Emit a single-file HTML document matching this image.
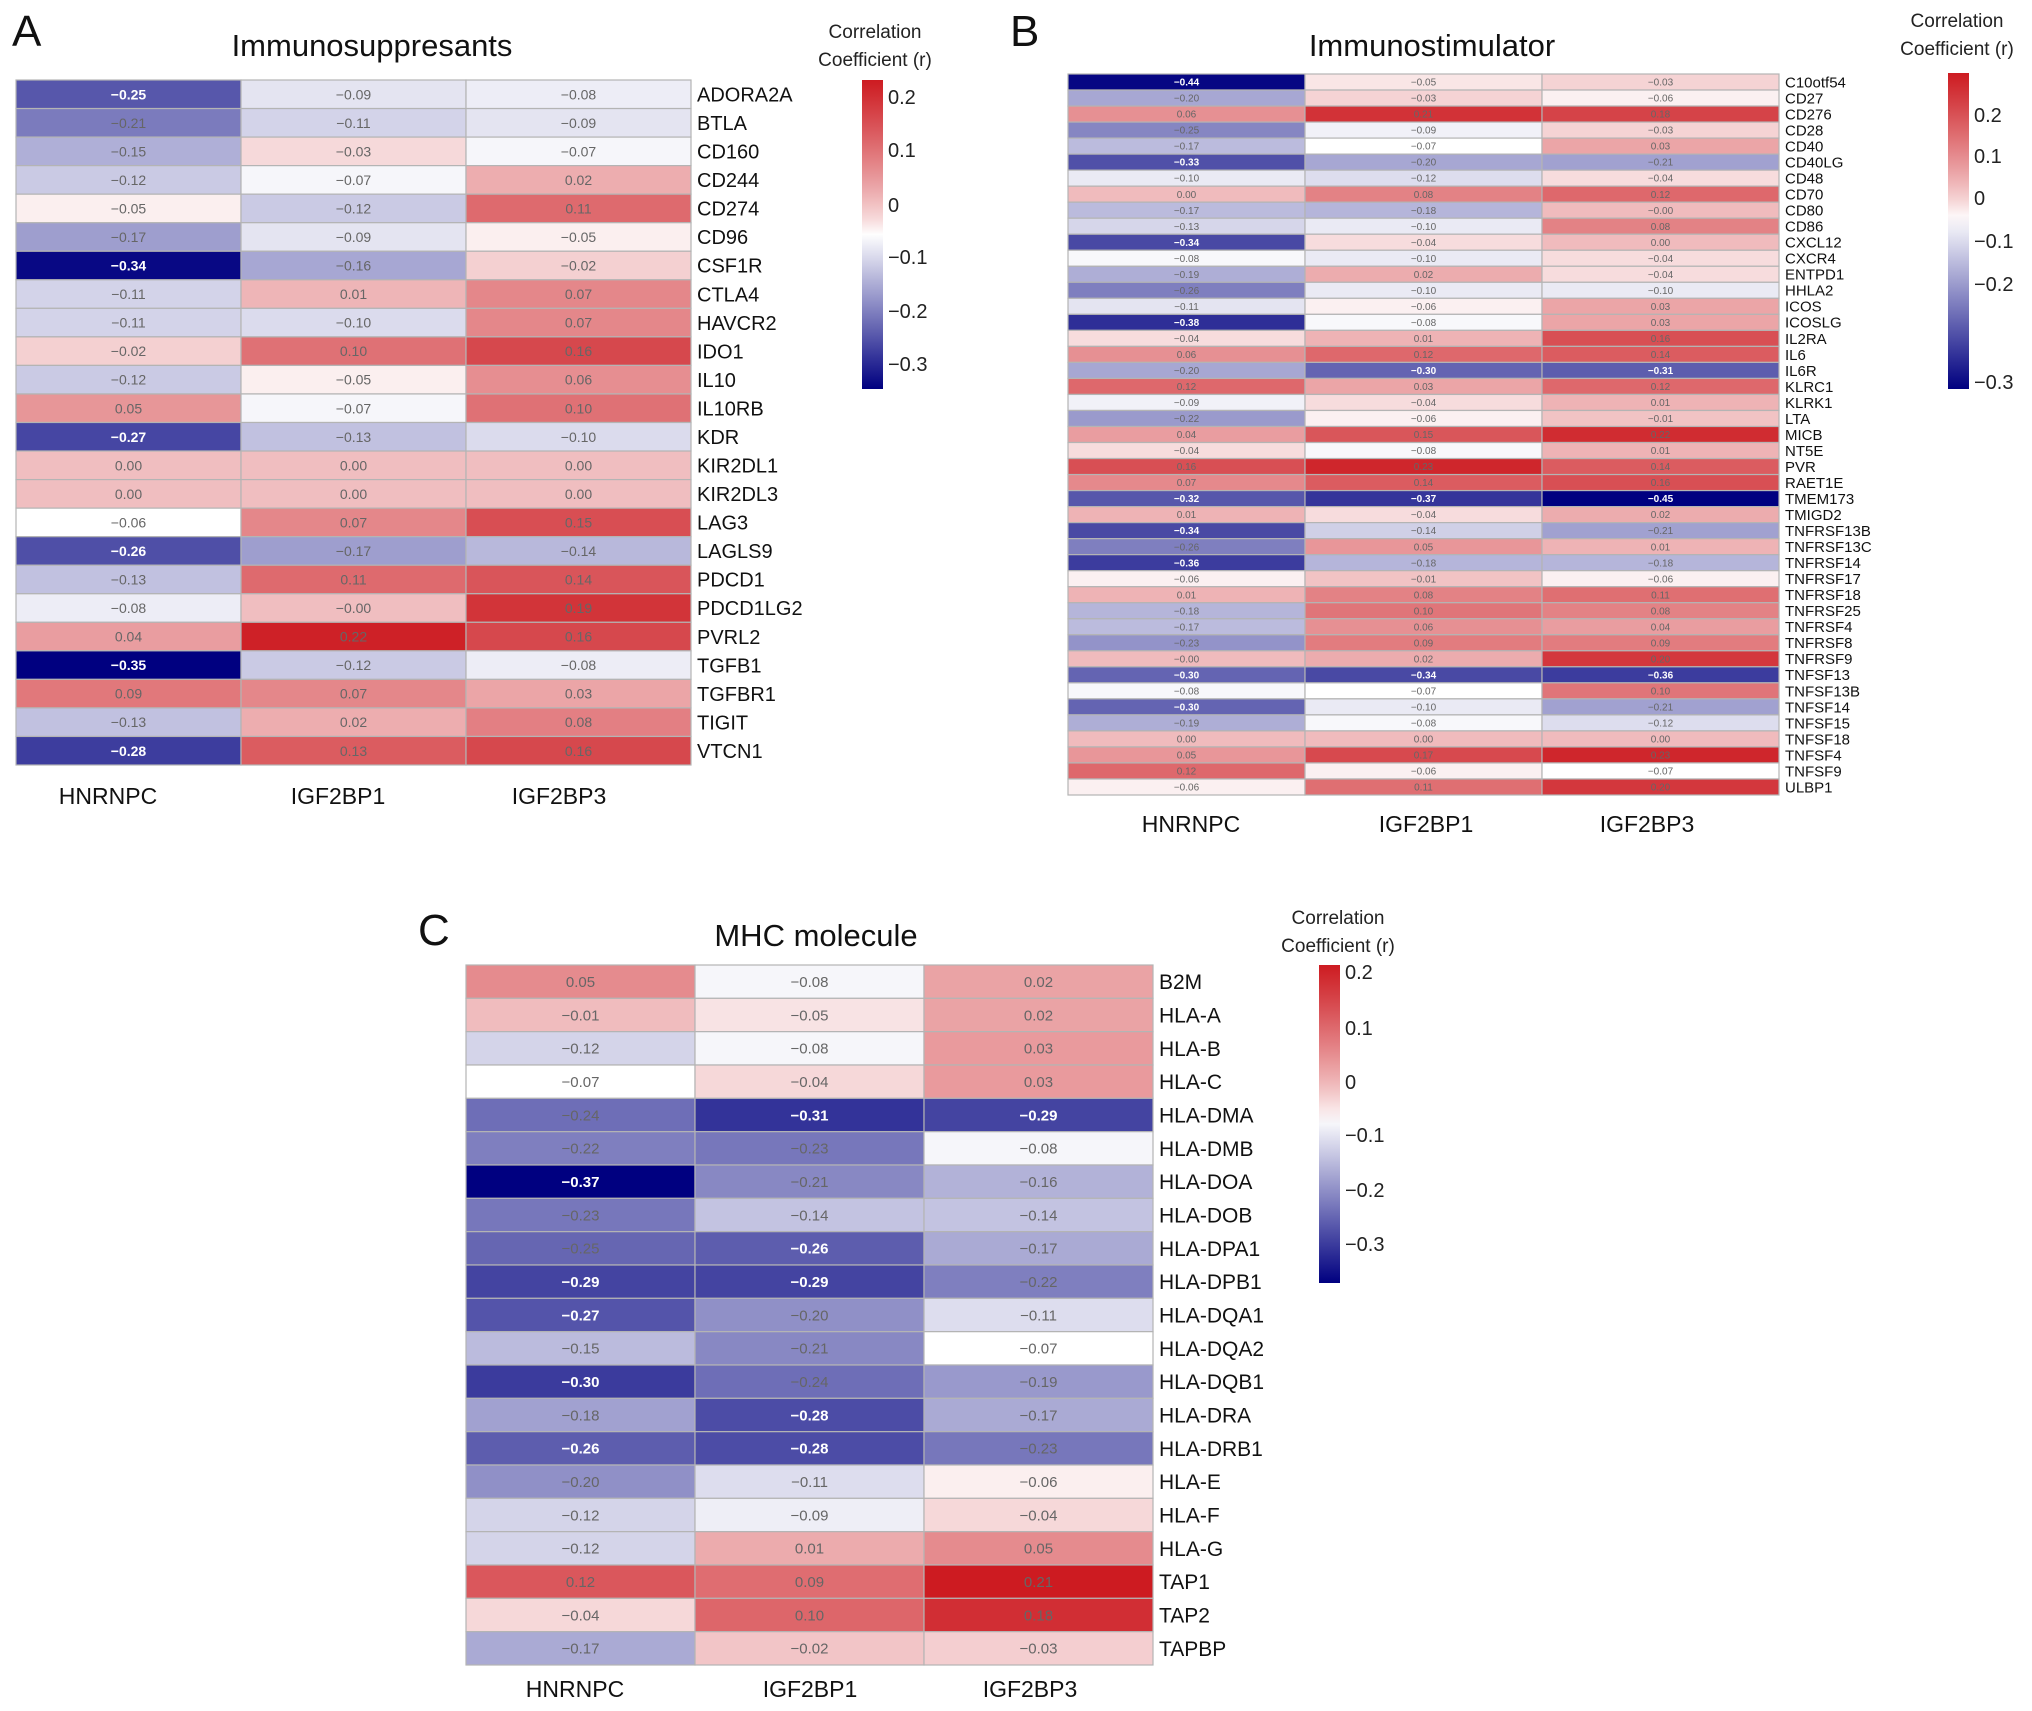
<!DOCTYPE html>
<html><head><meta charset="utf-8"><style>
html,body{margin:0;padding:0;background:#fff;}
svg{display:block;font-family:"Liberation Sans",Arial,sans-serif;}
</style></head><body>
<svg id="fig" width="2032" height="1711" viewBox="0 0 2032 1711" xmlns="http://www.w3.org/2000/svg"></svg>
<script>
const cols = ["HNRNPC","IGF2BP1","IGF2BP3"];
const genesA = ["ADORA2A","BTLA","CD160","CD244","CD274","CD96","CSF1R","CTLA4","HAVCR2","IDO1","IL10","IL10RB","KDR","KIR2DL1","KIR2DL3","LAG3","LAGLS9","PDCD1","PDCD1LG2","PVRL2","TGFB1","TGFBR1","TIGIT","VTCN1"];
const aHNRNPC = [-0.25,-0.21,-0.15,-0.12,-0.05,-0.17,-0.34,-0.11,-0.11,-0.02,-0.12,0.05,-0.27,0.00,0.00,-0.06,-0.26,-0.13,-0.08,0.04,-0.35,0.09,-0.13,-0.28];
const aIGF2BP1 = [-0.09,-0.11,-0.03,-0.07,-0.12,-0.09,-0.16,0.01,-0.10,0.10,-0.05,-0.07,-0.13,0.00,0.00,0.07,-0.17,0.11,-0.00,0.22,-0.12,0.07,0.02,0.13];
const aIGF2BP3 = [-0.08,-0.09,-0.07,0.02,0.11,-0.05,-0.02,0.07,0.07,0.16,0.06,0.10,-0.10,0.00,0.00,0.15,-0.14,0.14,0.19,0.16,-0.08,0.03,0.08,0.16];
const genesB = ["C10otf54","CD27","CD276","CD28","CD40","CD40LG","CD48","CD70","CD80","CD86","CXCL12","CXCR4","ENTPD1","HHLA2","ICOS","ICOSLG","IL2RA","IL6","IL6R","KLRC1","KLRK1","LTA","MICB","NT5E","PVR","RAET1E","TMEM173","TMIGD2","TNFRSF13B","TNFRSF13C","TNFRSF14","TNFRSF17","TNFRSF18","TNFRSF25","TNFRSF4","TNFRSF8","TNFRSF9","TNFSF13","TNFSF13B","TNFSF14","TNFSF15","TNFSF18","TNFSF4","TNFSF9","ULBP1"];
const bHNRNPC = [-0.44,-0.20,0.06,-0.25,-0.17,-0.33,-0.10,0.00,-0.17,-0.13,-0.34,-0.08,-0.19,-0.26,-0.11,-0.38,-0.04,0.06,-0.20,0.12,-0.09,-0.22,0.04,-0.04,0.16,0.07,-0.32,0.01,-0.34,-0.26,-0.36,-0.06,0.01,-0.18,-0.17,-0.23,-0.00,-0.30,-0.08,-0.30,-0.19,0.00,0.05,0.12,-0.06];
const bIGF2BP1 = [-0.05,-0.03,0.21,-0.09,-0.07,-0.20,-0.12,0.08,-0.18,-0.10,-0.04,-0.10,0.02,-0.10,-0.06,-0.08,0.01,0.12,-0.30,0.03,-0.04,-0.06,0.15,-0.08,0.23,0.14,-0.37,-0.04,-0.14,0.05,-0.18,-0.01,0.08,0.10,0.06,0.09,0.02,-0.34,-0.07,-0.10,-0.08,0.00,0.17,-0.06,0.11];
const bIGF2BP3 = [-0.03,-0.06,0.18,-0.03,0.03,-0.21,-0.04,0.12,-0.00,0.08,0.00,-0.04,-0.04,-0.10,0.03,0.03,0.16,0.14,-0.31,0.12,0.01,-0.01,0.22,0.01,0.14,0.16,-0.45,0.02,-0.21,0.01,-0.18,-0.06,0.11,0.08,0.04,0.09,0.20,-0.36,0.10,-0.21,-0.12,0.00,0.23,-0.07,0.20];
const genesC = ["B2M","HLA-A","HLA-B","HLA-C","HLA-DMA","HLA-DMB","HLA-DOA","HLA-DOB","HLA-DPA1","HLA-DPB1","HLA-DQA1","HLA-DQA2","HLA-DQB1","HLA-DRA","HLA-DRB1","HLA-E","HLA-F","HLA-G","TAP1","TAP2","TAPBP"];
const cHNRNPC = [0.05,-0.01,-0.12,-0.07,-0.24,-0.22,-0.37,-0.23,-0.25,-0.29,-0.27,-0.15,-0.30,-0.18,-0.26,-0.20,-0.12,-0.12,0.12,-0.04,-0.17];
const cIGF2BP1 = [-0.08,-0.05,-0.08,-0.04,-0.31,-0.23,-0.21,-0.14,-0.26,-0.29,-0.20,-0.21,-0.24,-0.28,-0.28,-0.11,-0.09,0.01,0.09,0.10,-0.02];
const cIGF2BP3 = [0.02,0.02,0.03,0.03,-0.29,-0.08,-0.16,-0.14,-0.17,-0.22,-0.11,-0.07,-0.19,-0.17,-0.23,-0.06,-0.04,0.05,0.21,0.18,-0.03];
const ticksA = ["0.2","0.1","0","\u22120.1","\u22120.2","\u22120.3"];
const ticksB = ["0.2","0.1","0","\u22120.1","\u22120.2","\u22120.3"];
const ticksC = ["0.2","0.1","0","\u22120.1","\u22120.2","\u22120.3"];

const NS="http://www.w3.org/2000/svg";
const svg=document.getElementById('fig');
function mk(tag,attrs,parent){const e=document.createElementNS(NS,tag);for(const k in attrs)e.setAttribute(k,attrs[k]);(parent||svg).appendChild(e);return e;}
function txt(s,attrs,parent){const e=mk('text',attrs,parent);e.textContent=s;return e;}
function colorFor(v,vmin,vw,vmax){
  let r,g,b;
  if(v<=vw){let s=Math.min(1,(v-vw)/(vmin-vw));r=255-255*s;g=255-255*s;b=255-127*s;}
  else{let s=Math.min(1,(v-vw)/(vmax-vw));s=Math.pow(s,0.8);r=255-50*s;g=255-228*s;b=255-222*s;}
  return `rgb(${r|0},${g|0},${b|0})`;
}
function fmt(v){const a=Math.abs(v).toFixed(2);return (v<0||Object.is(v,-0))?'\u2212'+a:a;}

function panel(o){
  const g=mk('g',{});
  
  
  const letter=txt(o.letter,{x:o.lx,y:o.ly,'font-size':44,fill:'#111'},g);
  
  
  const t=txt(o.title,{x:o.tx,y:o.ty,'font-size':31,'text-anchor':'middle',fill:'#111'},g);
  
  
  const n=o.genes.length, cw=(o.x1-o.x0)/3, rh=(o.y1-o.y0)/n;
  const series=[o.s0,o.s1,o.s2];
  for(let c=0;c<3;c++){
    for(let i=0;i<n;i++){
      const v=series[c][i];
      const r=mk('rect',{x:o.x0+c*cw,y:o.y0+i*rh,width:cw,height:rh,fill:colorFor(v,o.vmin,o.vw,o.vmax),stroke:'#b4b4b4','stroke-width':1.2},g);
      
      
      const strong=v<=o.thr;
      const vt=txt(fmt(v),{x:o.x0+c*cw+cw/2,y:o.y0+i*rh+rh/2+o.vfs*0.36,'font-size':o.vfs,'text-anchor':'middle',fill:strong?'#fff':'#666','font-weight':strong?'bold':'normal'},g);
      
      
    }
  }
  for(let i=0;i<n;i++){
    const lt=txt(o.genes[i],{x:o.x1+6,y:o.y0+i*rh+rh/2+o.gfs*0.36,'font-size':o.gfs,fill:'#111'},g);
    
    
  }
  for(let c=0;c<3;c++){
    const ct=txt(cols[c],{x:o.cx[c],y:o.cy,'font-size':23,'text-anchor':'middle',fill:'#111'},g);
    
    
  }
  // legend
  const gid='grad'+o.letter;
  const defs=mk('defs',{},g);
  const lg=mk('linearGradient',{id:gid,x1:0,y1:0,x2:0,y2:1},defs);
  for(let k=0;k<=20;k++){
    const v=o.vmax-(o.vmax-o.vmin)*k/20;
    mk('stop',{offset:(k/20),'stop-color':colorFor(v,o.vmin,o.vw,o.vmax)},lg);
  }
  const bar=mk('rect',{x:o.bx,y:o.by0,width:21,height:o.by1-o.by0,fill:`url(#${gid})`},g);
  
  
  for(let k=0;k<o.ticks.length;k++){
    const tk=txt(o.ticks[k],{x:o.bx+26,y:o.tickY[k]+7,'font-size':20,fill:'#222'},g);
    
    
  }
  const l1=txt('Correlation',{x:o.ltx,y:o.lty,'font-size':19,'text-anchor':'middle',fill:'#222'},g);
  
  
  const l2=txt('Coefficient (r)',{x:o.ltx,y:o.lty+28,'font-size':19,'text-anchor':'middle',fill:'#222'},g);
  
  
}

panel({name:'immunosuppresants',letter:'A',lx:12,ly:46,title:'Immunosuppresants',tx:372,ty:56,
  genes:genesA,s0:aHNRNPC,s1:aIGF2BP1,s2:aIGF2BP3,x0:16,x1:691,y0:80,y1:765,vfs:14,gfs:20,thr:-0.245,
  vmin:-0.35,vw:-0.06,vmax:0.23,cx:[108,338,559],cy:804,
  bx:862,by0:80,by1:389,ticks:ticksA,tickY:[97,150,205,257,311,364],ltx:875,lty:38});
panel({name:'immunostimulator',letter:'B',lx:1010,ly:46,title:'Immunostimulator',tx:1432,ty:56,
  genes:genesB,s0:bHNRNPC,s1:bIGF2BP1,s2:bIGF2BP3,x0:1068,x1:1779,y0:74,y1:795,vfs:10,gfs:15,thr:-0.265,
  vmin:-0.45,vw:-0.07,vmax:0.25,cx:[1191,1426,1647],cy:832,
  bx:1948,by0:73,by1:389,ticks:ticksB,tickY:[115,156,198,241,284,382],ltx:1957,lty:27});
panel({name:'mhc-molecule',letter:'C',lx:418,ly:945,title:'MHC molecule',tx:816,ty:946,
  genes:genesC,s0:cHNRNPC,s1:cIGF2BP1,s2:cIGF2BP3,x0:466,x1:1153,y0:965,y1:1665,vfs:15,gfs:21,thr:-0.26,
  vmin:-0.37,vw:-0.07,vmax:0.21,cx:[575,810,1030],cy:1697,
  bx:1319,by0:965,by1:1283,ticks:ticksC,tickY:[972,1028,1082,1135,1190,1244],ltx:1338,lty:924});
</script>
</body></html>
